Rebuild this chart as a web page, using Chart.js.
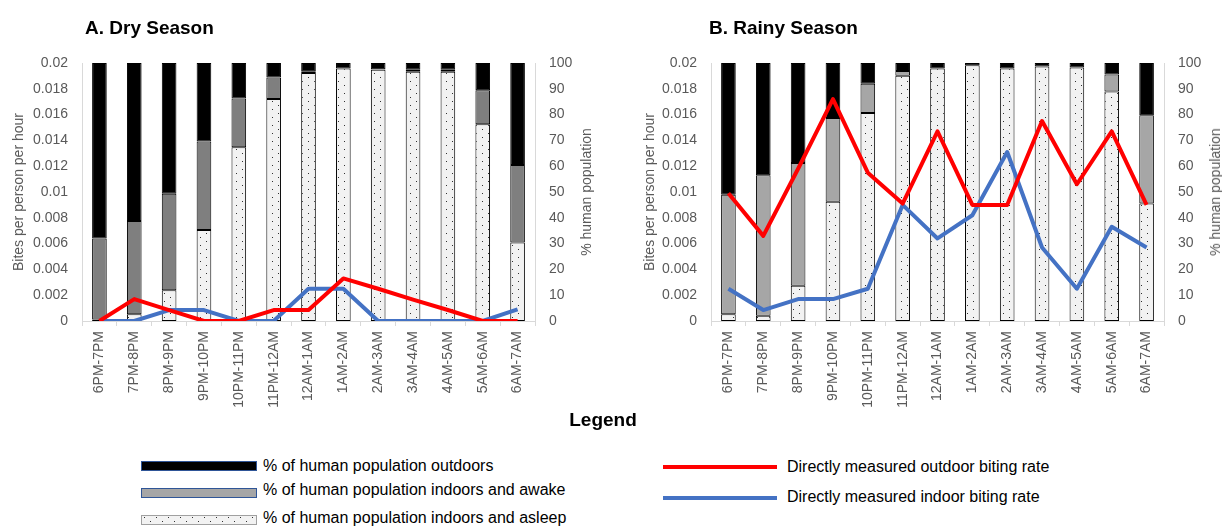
<!DOCTYPE html>
<html>
<head>
<meta charset="utf-8">
<script src="https://cdn.jsdelivr.net/npm/chart.js@4"></script>
<style>
  html, body { margin: 0; padding: 0; background: #fff; }
  body { width: 1222px; height: 529px; position: relative; overflow: hidden; font-family: 'Liberation Sans', Arial, sans-serif; }
  .abs { position: absolute; white-space: nowrap; }
  .title { font-weight: bold; font-size: 19px; line-height: 22px; color: #000; }
  .axt { font-size: 14px; color: #595959; line-height: 16px; transform: translate(-50%, -50%) rotate(-90deg); }
  .lgt { font-size: 16px; line-height: 20px; color: #000; }
  .sw { position: absolute; box-sizing: border-box; }
  canvas { position: absolute; top: 0; }
</style>
</head>
<body>
<canvas id="dry" width="593" height="420" style="left:0px"></canvas>
<canvas id="rainy" width="593" height="420" style="left:629px"></canvas>

<div class="abs title" style="left:85px; top:17px;">A. Dry Season</div>
<div class="abs title" style="left:709px; top:17px;">B. Rainy Season</div>

<div class="abs axt" style="left:18px; top:192px;">Bites per person per hour</div>
<div class="abs axt" style="left:586px; top:192px;">% human population</div>
<div class="abs axt" style="left:649px; top:192px;">Bites per person per hour</div>
<div class="abs axt" style="left:1215px; top:192px;">% human population</div>

<div class="abs title" style="left:603px; top:409px; transform:translateX(-50%);">Legend</div>

<div class="sw" style="left:141px; top:461px; width:116px; height:10px; background:#000; border:1.5px solid #2f5597;"></div>
<div class="sw" style="left:141px; top:488px; width:116px; height:10px; background:#a6a6a6; border:1.5px solid #2f5597;"></div>
<div class="sw" id="dotsw" style="left:141px; top:515px; width:116px; height:10px; border:1px solid #a0a0a0;"></div>
<div class="abs lgt" style="left:263px; top:456px;">% of human population outdoors</div>
<div class="abs lgt" style="left:263px; top:480px;">% of human population indoors and awake</div>
<div class="abs lgt" style="left:263px; top:508px;">% of human population indoors and asleep</div>

<div class="sw" style="left:663px; top:465px; width:114px; height:4px; background:#ff0000;"></div>
<div class="sw" style="left:663px; top:496px; width:114px; height:4px; background:#4472c4;"></div>
<div class="abs lgt" style="left:787px; top:457px;">Directly measured outdoor biting rate</div>
<div class="abs lgt" style="left:787px; top:487px;">Directly measured indoor biting rate</div>

<script>
// ---- Data ----
const categories = ['6PM-7PM','7PM-8PM','8PM-9PM','9PM-10PM','10PM-11PM','11PM-12AM','12AM-1AM','1AM-2AM','2AM-3AM','3AM-4AM','4AM-5AM','5AM-6AM','6AM-7AM'];

// Dry season: % of human population (stacked)
const dryAsleep   = [0.6, 2.6, 11.9, 35.3, 67.3, 86.0, 96.1, 97.9, 97.4, 96.6, 96.6, 76.3, 30.4];
const dryAwake    = [31.4, 36.2, 37.4, 34.3, 18.9, 8.4, 0.7, 0, 0.2, 0.8, 0.8, 13.1, 30.1];
const dryOutdoors = [68.0, 61.2, 50.7, 30.4, 13.8, 5.6, 3.2, 2.1, 2.4, 2.6, 2.6, 10.6, 39.5];
// Dry season: biting rates (bites per person per hour)
const dryOutdoorRate = [0, 0.0017, 0.00085, 0, 0, 0.00085, 0.00085, 0.0033, 0.0025, 0.00165, 0.00085, 0, 0];
const dryIndoorRate  = [0, 0, 0.00085, 0.00085, 0, 0, 0.0025, 0.0025, 0, 0, 0, 0, 0.0009];

// Rainy season: % of human population (stacked)
const rainyAsleep   = [2.6, 2.0, 13.7, 46.2, 80.6, 95.1, 97.9, 99.1, 97.9, 98.6, 98.3, 89.0, 45.5];
const rainyAwake    = [46.3, 54.5, 47.5, 32.5, 11.4, 1.8, 0, 0, 0, 0, 0, 6.5, 34.2];
const rainyOutdoors = [51.1, 43.5, 38.8, 21.3, 8.0, 3.1, 2.1, 0.9, 2.1, 1.4, 1.7, 4.5, 20.3];
// Rainy season: biting rates
const rainyOutdoorRate = [0.0099, 0.0066, 0.0118, 0.0172, 0.0115, 0.0091, 0.0147, 0.009, 0.009, 0.0155, 0.0106, 0.0147, 0.009];
const rainyIndoorRate  = [0.0025, 0.00085, 0.0017, 0.0017, 0.0025, 0.009, 0.0064, 0.0082, 0.0131, 0.0057, 0.0025, 0.0073, 0.0057];

// Axis ranges
const rateMax = 0.02, rateStep = 0.002;
const pctMax = 100, pctStep = 10;

// ---- Styling ----
Chart.defaults.font.family = "'Liberation Sans', Arial, sans-serif";
Chart.defaults.font.size = 14;
Chart.defaults.color = '#595959';

function makeDotPattern() {
  const c = document.createElement('canvas');
  c.width = 12; c.height = 8;
  const g = c.getContext('2d');
  g.fillStyle = '#f2f2f2';
  g.fillRect(0, 0, 12, 8);
  g.fillStyle = '#303030';
  g.fillRect(2, 1, 1, 1);
  g.fillRect(8, 5, 1, 1);
  return c;
}
const dotCanvas = makeDotPattern();
document.getElementById('dotsw').style.background = "url(" + dotCanvas.toDataURL() + ")";

function buildChart(id, asleep, awake, outdoors, outRate, inRate, awakeColor) {
  const ctx = document.getElementById(id).getContext('2d');
  const pattern = ctx.createPattern(dotCanvas, 'repeat');
  const barCommon = { type: 'bar', yAxisID: 'y1', borderColor: '#000', borderWidth: 1, borderSkipped: false,
                      barPercentage: 0.42, categoryPercentage: 1.0, order: 2 };
  return new Chart(ctx, {
    data: {
      labels: categories,
      datasets: [
        { ...barCommon, label: '% of human population indoors and asleep', data: asleep, backgroundColor: pattern },
        { ...barCommon, label: '% of human population indoors and awake', data: awake, backgroundColor: awakeColor },
        { ...barCommon, label: '% of human population outdoors', data: outdoors, backgroundColor: '#000000' },
        { type: 'line', label: 'Directly measured outdoor biting rate', data: outRate, yAxisID: 'y',
          borderColor: '#ff0000', borderWidth: 4, pointRadius: 0, tension: 0, order: 0,
          borderJoinStyle: 'round' },
        { type: 'line', label: 'Directly measured indoor biting rate', data: inRate, yAxisID: 'y',
          borderColor: '#4472c4', borderWidth: 4, pointRadius: 0, tension: 0, order: 1,
          borderJoinStyle: 'round' }
      ]
    },
    options: {
      responsive: false,
      animation: false,
      devicePixelRatio: 1,
      layout: { padding: { top: 63, left: 0, right: 0, bottom: 0 } },
      plugins: { legend: { display: false }, tooltip: { enabled: false }, title: { display: false } },
      scales: {
        x: {
          stacked: true,
          grid: { display: true, drawOnChartArea: false, drawTicks: true, tickLength: 5, color: '#d9d9d9', offset: true },
          border: { display: true, color: '#d9d9d9' },
          ticks: { minRotation: 90, maxRotation: 90, autoSkip: false, padding: 5, color: '#595959', font: { size: 14 } },
          afterFit: s => { s.height = 99; }
        },
        y: {
          position: 'left', min: 0, max: rateMax,
          grid: { display: false, drawTicks: false },
          border: { display: true, color: '#d9d9d9' },
          ticks: { stepSize: rateStep, padding: 14, color: '#595959', font: { size: 14 },
                   callback: v => String(parseFloat(Number(v).toFixed(4))) },
          afterFit: s => { s.width = 82; }
        },
        y1: {
          position: 'right', stacked: true, min: 0, max: pctMax,
          grid: { display: false, drawTicks: false },
          border: { display: true, color: '#d9d9d9' },
          ticks: { stepSize: pctStep, padding: 14, color: '#595959', font: { size: 14 } },
          afterFit: s => { s.width = 58; }
        }
      }
    }
  });
}

buildChart('dry', dryAsleep, dryAwake, dryOutdoors, dryOutdoorRate, dryIndoorRate, '#7f7f7f');
buildChart('rainy', rainyAsleep, rainyAwake, rainyOutdoors, rainyOutdoorRate, rainyIndoorRate, '#a6a6a6');
</script>
</body>
</html>
